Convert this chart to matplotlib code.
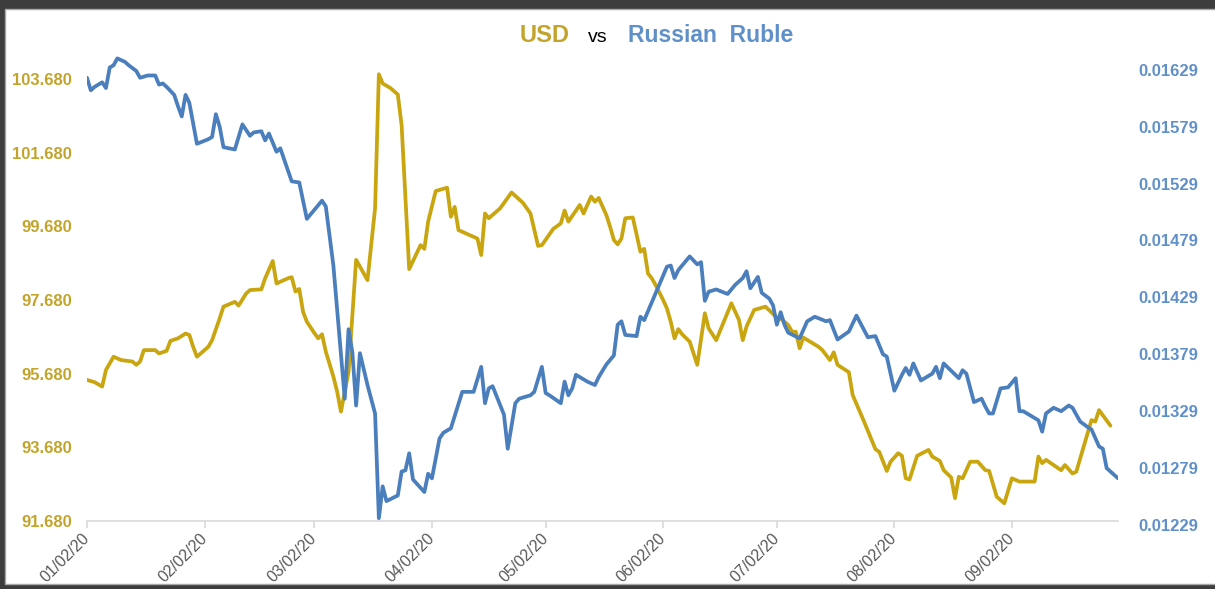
import pandas as pd
import matplotlib
matplotlib.use("Agg")
import matplotlib.pyplot as plt
import matplotlib.dates as mdates
from matplotlib.patches import Rectangle

plt.rcParams["font.family"] = ["Liberation Sans", "DejaVu Sans"]

start = pd.Timestamp("2020-01-02")

# days after 2020-01-02
usd_day = [0, 2, 4, 5, 7, 9, 12, 13, 14, 15, 18, 19, 21, 22, 24, 26, 27, 28, 29, 32,
           33, 35, 36, 39, 40, 42, 43, 46, 47, 49, 50, 53, 54, 55, 56, 57, 58, 60, 61, 62,
           63, 65, 66, 67, 69, 71, 74, 76, 77, 78, 80, 82, 83, 85, 88, 89, 90, 92, 95, 96,
           97, 98, 101, 103, 104, 105, 106, 109, 112, 115, 117, 119, 120, 123, 125, 126, 127, 130, 131, 133,
           134, 135, 137, 138, 139, 140, 141, 142, 144, 146, 147, 148, 149, 150, 152, 153, 154, 155, 156, 157,
           159, 161, 163, 164, 166, 170, 172, 173, 174, 176, 179, 182, 183, 185, 186, 187, 188, 189, 193, 194,
           196, 197, 198, 201, 202, 205, 208, 209, 211, 212, 214, 215, 216, 217, 219, 222, 223, 225, 226, 228,
           229, 230, 231, 233, 235, 237, 238, 240, 242, 244, 246, 250, 251, 252, 253, 257, 258, 260, 261, 265,
           266, 267, 270]
usd_rate = [95.51, 95.45, 95.33, 95.78, 96.14, 96.05, 96.01, 95.92, 96.01, 96.32, 96.32, 96.23, 96.30, 96.57, 96.64, 96.77, 96.73, 96.41, 96.14, 96.41,
            96.59, 97.18, 97.50, 97.63, 97.53, 97.86, 97.95, 97.97, 98.27, 98.74, 98.13, 98.27, 98.30, 97.91, 97.98, 97.36, 97.09, 96.78, 96.64, 96.75,
            96.28, 95.60, 95.19, 94.65, 95.73, 98.77, 98.22, 100.17, 103.81, 103.56, 103.44, 103.26, 102.43, 98.52, 99.17, 99.07, 99.81, 100.64, 100.73, 99.94,
            100.21, 99.58, 99.44, 99.35, 98.90, 100.03, 99.90, 100.17, 100.60, 100.32, 100.03, 99.15, 99.17, 99.61, 99.76, 100.11, 99.81, 100.26, 100.03, 100.49,
            100.35, 100.45, 99.99, 99.67, 99.31, 99.19, 99.35, 99.90, 99.92, 98.99, 99.07, 98.40, 98.27, 98.09, 97.68, 97.45, 97.09, 96.64, 96.89, 96.75,
            96.55, 95.92, 97.32, 96.91, 96.59, 97.59, 97.14, 96.59, 96.96, 97.41, 97.50, 97.20, 97.18, 97.00, 96.82, 96.82, 96.37, 96.66, 96.41, 96.32,
            96.05, 96.26, 95.92, 95.72, 95.10, 94.38, 93.63, 93.56, 93.04, 93.29, 93.52, 93.45, 92.84, 92.81, 93.45, 93.61, 93.43, 93.31, 93.06, 92.86,
            92.30, 92.88, 92.84, 93.29, 93.29, 93.06, 93.04, 92.34, 92.16, 92.84, 92.75, 92.75, 93.43, 93.25, 93.34, 93.06, 93.20, 92.97, 93.02, 94.42,
            94.38, 94.69, 94.27]

rub_day = [0, 1, 2, 4, 5, 6, 7, 8, 10, 11, 13, 14, 16, 18, 19, 20, 21, 23, 24, 25,
           26, 27, 29, 32, 33, 34, 35, 36, 39, 41, 43, 44, 46, 47, 48, 50, 51, 54, 56, 58,
           60, 62, 63, 65, 68, 69, 70, 71, 72, 74, 76, 77, 78, 79, 82, 83, 84, 85, 86, 89,
           90, 91, 93, 94, 96, 99, 102, 104, 105, 106, 107, 110, 111, 113, 114, 117, 118, 120, 121, 122,
           125, 126, 127, 128, 129, 132, 134, 135, 137, 139, 140, 141, 142, 145, 146, 147, 153, 154, 155, 156,
           159, 161, 162, 163, 164, 166, 169, 171, 173, 174, 175, 177, 178, 180, 181, 182, 183, 184, 185, 188,
           190, 192, 195, 196, 198, 201, 203, 206, 208, 210, 211, 213, 215, 216, 217, 218, 220, 223, 224, 225,
           226, 230, 231, 232, 234, 236, 237, 238, 239, 241, 243, 245, 246, 247, 251, 252, 253, 255, 257, 259,
           260, 262, 264, 265, 267, 268, 269, 272]
rub_rate = [0.01622, 0.01611, 0.01614, 0.01618, 0.01613, 0.01631, 0.01633, 0.01639, 0.01636, 0.01633,
            0.01628, 0.01622, 0.01624, 0.01624, 0.01616, 0.01617, 0.01614, 0.01607, 0.01597, 0.01588,
            0.01607, 0.01600, 0.01564, 0.01568, 0.01570, 0.01590, 0.01579, 0.01561, 0.01559, 0.01581,
            0.01571, 0.01574, 0.01575, 0.01567, 0.01573, 0.01557, 0.01560, 0.01531, 0.01530, 0.01498,
            0.01506, 0.01514, 0.01509, 0.01457, 0.01340, 0.01401, 0.01381, 0.01334, 0.01380, 0.01352,
            0.01327, 0.01235, 0.01263, 0.01250, 0.01255, 0.01276, 0.01277, 0.01292, 0.01269, 0.01258,
            0.01274, 0.01270, 0.01305, 0.01310, 0.01314, 0.01346, 0.01346, 0.01368, 0.01336, 0.01349,
            0.01351, 0.01326, 0.01296, 0.01336, 0.01340, 0.01343, 0.01346, 0.01368, 0.01345, 0.01343,
            0.01336, 0.01355, 0.01343, 0.01349, 0.01361, 0.01355, 0.01352, 0.01359, 0.01370, 0.01378,
            0.01405, 0.01408, 0.01396, 0.01395, 0.01412, 0.01409, 0.01456, 0.01457, 0.01446, 0.01453,
            0.01465, 0.01458, 0.01460, 0.01426, 0.01434, 0.01436, 0.01432, 0.01440, 0.01446, 0.01452,
            0.01437, 0.01447, 0.01433, 0.01428, 0.01422, 0.01405, 0.01416, 0.01405, 0.01398, 0.01393,
            0.01408, 0.01412, 0.01408, 0.01409, 0.01392, 0.01399, 0.01413, 0.01394, 0.01395, 0.01379,
            0.01377, 0.01347, 0.01361, 0.01367, 0.01361, 0.01371, 0.01356, 0.01362, 0.01368, 0.01358,
            0.01371, 0.01358, 0.01365, 0.01362, 0.01337, 0.01340, 0.01333, 0.01327, 0.01327, 0.01349,
            0.01350, 0.01358, 0.01329, 0.01329, 0.01321, 0.01311, 0.01327, 0.01332, 0.01329, 0.01334,
            0.01332, 0.01320, 0.01315, 0.01313, 0.01298, 0.01296, 0.01279, 0.01270]

month_ticks = ["2020-01-02", "2020-02-02", "2020-03-02", "2020-04-02", "2020-05-02",
               "2020-06-02", "2020-07-02", "2020-08-02", "2020-09-02"]
usd_ticks = [91.68, 93.68, 95.68, 97.68, 99.68, 101.68, 103.68]
rub_ticks = [0.01229, 0.01279, 0.01329, 0.01379, 0.01429, 0.01479, 0.01529, 0.01579, 0.01629]

gold = "#c9a50f"
gold_text = "#c2a42a"
blue = "#4a7ebc"
blue_text = "#6090c9"

usd_dates = start + pd.to_timedelta(usd_day, unit="D")
rub_dates = start + pd.to_timedelta(rub_day, unit="D")

W, H = 1215, 589
fig = plt.figure(figsize=(W / 100, H / 100), dpi=100)
fig.patch.set_facecolor("#3d3d3d")
fig.add_artist(Rectangle((5 / W, 5 / H), 1.0, (H - 14) / H, transform=fig.transFigure,
                         facecolor="white", edgecolor="#a8a8a8", lw=1, zorder=-1))

# left axis (USD)
ax = fig.add_axes([87 / W, 68 / H, 1031 / W, 501 / H])
ax.patch.set_visible(False)
ax.plot(usd_dates, usd_rate, color=gold, lw=2.7, solid_joinstyle="round", solid_capstyle="round")
ax.set_xlim(start, start + pd.Timedelta(days=272))
ax.set_ylim(91.68, 91.68 + 501 / 36.83)
ax.set_yticks(usd_ticks, labels=[f"{v:.3f}" for v in usd_ticks], fontweight="bold")
ax.tick_params(axis="y", length=0, pad=11, labelsize=12, labelcolor=gold_text)

ax.set_xticks(pd.to_datetime(month_ticks))
ax.xaxis.set_major_formatter(mdates.DateFormatter("%m/%d/%y"))
ax.tick_params(axis="x", length=5, width=1.2, color="#d9d9d9", labelcolor="#595959",
               labelsize=11.5, pad=6)
for lbl in ax.get_xticklabels():
    lbl.set_rotation(45)
    lbl.set_ha("right")
    lbl.set_va("center")
    lbl.set_rotation_mode("anchor")

for side in ["top", "left", "right"]:
    ax.spines[side].set_visible(False)
ax.spines["bottom"].set_color("#d9d9d9")
ax.spines["bottom"].set_linewidth(1.2)

# right axis (RUB)
ax2 = fig.add_axes([87 / W, 64 / H, 1031 / W, 505 / H], sharex=ax)
ax2.patch.set_visible(False)
ax2.plot(rub_dates, rub_rate, color=blue, lw=2.7, solid_joinstyle="round", solid_capstyle="round")
ax2.set_ylim(0.01229, 0.01229 + 505 / 56.9 * 0.0005)
ax2.yaxis.tick_right()
ax2.set_yticks(rub_ticks, labels=[f"{v:.5f}" for v in rub_ticks], fontweight="bold")
ax2.tick_params(axis="y", length=0, pad=14.5, labelsize=12, labelcolor=blue_text)
ax2.tick_params(axis="x", bottom=False, labelbottom=False)
for side in ax2.spines:
    ax2.spines[side].set_visible(False)

# title in three colours
ty = 1 - 42 / H
fig.text(520 / W, ty, "USD", color=gold_text, fontsize=17, fontweight="bold", va="baseline")
fig.text(588 / W, ty, "vs", color="black", fontsize=14, va="baseline")
fig.text(628 / W, ty, "Russian  Ruble", color=blue_text, fontsize=16.5, fontweight="bold", va="baseline")

fig.savefig("out.png", dpi=100, facecolor=fig.get_facecolor())
